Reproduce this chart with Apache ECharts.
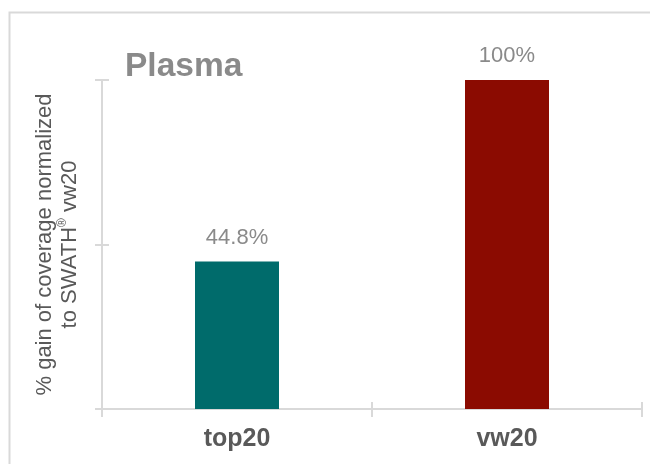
<!DOCTYPE html>
<html>
<head>
<meta charset="utf-8">
<script src="https://cdn.jsdelivr.net/npm/echarts@6/dist/echarts.min.js"></script>
<style>
html,body{margin:0;padding:0;background:#fff;}
#c{width:650px;height:464px;}
</style>
</head>
<body>
<div id="c"></div>
<script>
var categories = ['top20', 'vw20'];
var values = [44.8, 100];
var valueLabels = ['44.8%', '100%'];
var barColors = ['#006b6b', '#8b0b01'];
var titleText = 'Plasma';

var FONT = '"Liberation Sans", Arial, sans-serif';
var chart = echarts.init(document.getElementById('c'), null, {renderer: 'canvas'});

var axisLineStyle = {color: '#d9d9d9', width: 2};
var baseY = {
  type: 'value', min: 0, max: 100, interval: 50,
  splitLine: {show: false},
  axisLabel: {show: false}
};
var baseX = {
  type: 'category', data: categories, boundaryGap: true
};

chart.setOption({
  animation: false,
  backgroundColor: '#ffffff',
  title: {
    text: titleText, left: 125, top: 50, padding: 0,
    textStyle: {fontFamily: FONT, fontSize: 33.5, fontWeight: 'bold', color: '#8a8a8a'}
  },
  graphic: [{
    type: 'rect', left: 7, top: 10, silent: true,
    shape: {x: 0, y: 0, width: 700, height: 500},
    style: {fill: 'none', stroke: '#d9d9d9', lineWidth: 2}
  }],
  grid: {left: 102, right: 8, top: 80, bottom: 55},
  xAxis: [
    Object.assign({}, baseX, {
      axisLine: {show: true, lineStyle: axisLineStyle},
      axisTick: {show: true, length: 8, alignWithLabel: false, lineStyle: axisLineStyle},
      axisLabel: {show: true, margin: 18, fontFamily: FONT, fontSize: 25, fontWeight: 'bold', color: '#595959'}
    }),
    Object.assign({}, baseX, {
      position: 'bottom',
      axisLine: {show: false},
      axisTick: {show: true, inside: true, length: 7, lineStyle: axisLineStyle},
      axisLabel: {show: false}
    })
  ],
  yAxis: [
    Object.assign({}, baseY, {
      axisLine: {show: true, lineStyle: axisLineStyle},
      axisTick: {show: true, length: 7, lineStyle: axisLineStyle},
      name: '{t|% gain of coverage normalized}\n{t|to SWATH}{s|®}{t| vw20}',
      nameLocation: 'middle',
      nameGap: 20,
      nameRotate: 90,
      nameTextStyle: {
        fontFamily: FONT, color: '#595959', lineHeight: 25,
        rich: {
          t: {fontFamily: FONT, fontSize: 22, color: '#595959', lineHeight: 25},
          s: {fontFamily: FONT, fontSize: 12, color: '#595959', verticalAlign: 'top', lineHeight: 25, padding: [0, 0, 8, 0]}
        }
      }
    }),
    Object.assign({}, baseY, {
      position: 'left',
      axisLine: {show: false},
      axisTick: {show: true, inside: true, length: 7, lineStyle: axisLineStyle}
    })
  ],
  series: [{
    type: 'bar',
    xAxisIndex: 0, yAxisIndex: 0,
    barWidth: 84,
    data: values.map(function (v, i) {
      return {value: v, itemStyle: {color: barColors[i]}};
    }),
    label: {
      show: true, position: 'top', distance: 13,
      fontFamily: FONT, fontSize: 22, color: '#8a8a8a',
      formatter: function (p) { return valueLabels[p.dataIndex]; }
    }
  }]
});
</script>
</body>
</html>
